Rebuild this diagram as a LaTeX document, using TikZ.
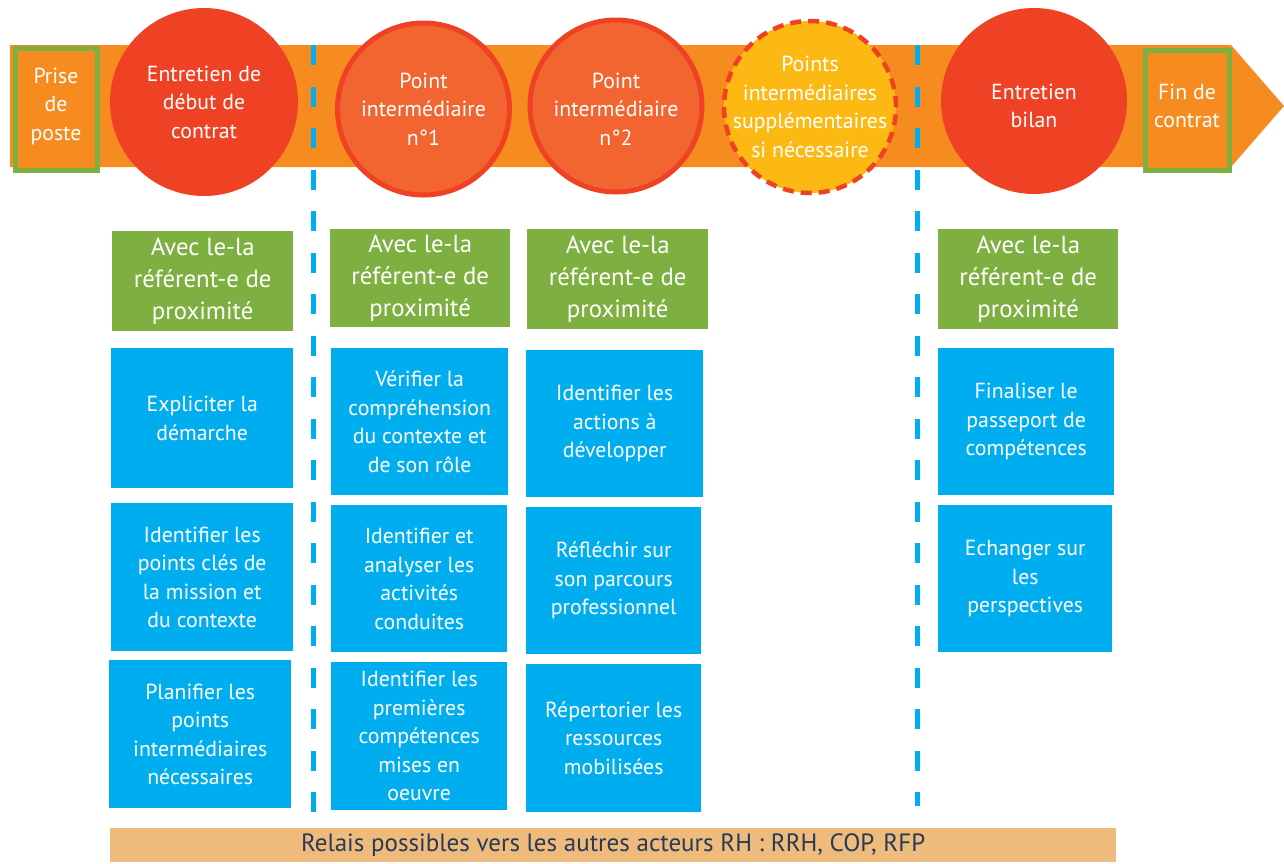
\documentclass[tikz,border=0pt]{standalone}
\usepackage{fontspec}
\setmainfont{PT Sans}
\definecolor{bandor}{HTML}{F68B1F}
\definecolor{redc}{HTML}{EF4123}
\definecolor{orc}{HTML}{F26531}
\definecolor{yelc}{HTML}{FDB913}
\definecolor{grn}{HTML}{7DB040}
\definecolor{blu}{HTML}{00AEEF}
\definecolor{barc}{HTML}{EEBB7D}
\definecolor{navy}{HTML}{283A56}
\tikzset{
  x=1pt, y=-1pt,
  wtxt/.style={text=white, align=center, font=\fontsize{21.8}{28.5}\selectfont, inner sep=0pt},
  hdr/.style={fill=grn, text=white, align=center, font=\fontsize{24.8}{32}\selectfont, inner sep=0pt, anchor=north west},
  task/.style={fill=blu, text=white, align=center, font=\fontsize{21.8}{28.5}\selectfont, inner sep=0pt, anchor=north west},
  sep/.style={draw=blu, line width=5pt, dash pattern=on 20pt off 21.5pt},
  endbox/.style={draw=grn, line width=5pt, fill=bandor, inner sep=0pt, anchor=north west},
}
\begin{document}
\begin{tikzpicture}
\useasboundingbox (0,0) rectangle (1284,863);
% band
\fill[bandor] (10,45) -- (1231,45) -- (1284,106) -- (1231,167) -- (10,167) -- cycle;
% separators
\draw[sep] (313.5,45) -- (313.5,815);
\draw[sep] (917.5,45) -- (917.5,806);
% end boxes
\node[endbox, minimum width=82pt, minimum height=122pt] (prise) at (12.5,45.5) {};
\node[wtxt] at ([yshift=3pt]prise.center) {Prise\\de\\poste};
\node[endbox, minimum width=84pt, minimum height=120pt] (fin) at (1142.5,47.5) {};
\node[wtxt] at ([yshift=4pt]fin.center) {Fin de\\contrat};
% circles
\node[circle, fill=redc, minimum size=188pt, inner sep=0pt] (c1) at (204,102) {};
\node[wtxt] at (c1) {Entretien de\\début de\\contrat};
\node[circle, fill=orc, draw=redc, line width=5pt, minimum size=172pt, inner sep=0pt] (c2) at (423.5,109) {};
\node[wtxt] at (c2) {Point\\intermédiaire\\n°1};
\node[circle, fill=orc, draw=redc, line width=5pt, minimum size=172pt, inner sep=0pt] (c3) at (616,106) {};
\node[wtxt] at ([yshift=-3pt]c3) {Point\\intermédiaire\\n°2};
\node[circle, fill=yelc, draw=redc, line width=4.5pt, dash pattern=on 11pt off 7pt, minimum size=172pt, inner sep=0pt] (c4) at (810,107) {};
\node[wtxt] at (c4) {Points\\intermédiaires\\supplémentaires\\si nécessaire};
\node[circle, fill=redc, minimum size=186pt, inner sep=0pt] (c5) at (1034,101) {};
\node[wtxt] at ([yshift=-5pt]c5) {Entretien\\bilan};
% headers
\node[hdr, minimum width=181pt, minimum height=100pt] (h1) at (112,231) {Avec le-la\\référent-e de\\proximité};
\node[hdr, minimum width=180pt, minimum height=98pt] (h2) at (330,229) {Avec le-la\\référent-e de\\proximité};
\node[hdr, minimum width=181pt, minimum height=100pt] (h3) at (527,229) {Avec le-la\\référent-e de\\proximité};
\node[hdr, minimum width=180pt, minimum height=100pt] (h5) at (938,229) {Avec le-la\\référent-e de\\proximité};
% column 1
\node[task, minimum width=182pt, minimum height=140pt] (t11) at (111,348) {Expliciter la\\démarche};
\node[task, minimum width=182pt, minimum height=148pt] (t12) at (111,503) {Identifier les\\points clés de\\la mission et\\du contexte};
\node[task, minimum width=182pt, minimum height=148pt] (t13) at (109,660) {Planifier les\\points\\intermédiaires\\nécessaires};
% column 2
\node[task, minimum width=177pt, minimum height=147pt] (t21) at (331,348) {Vérifier la\\compréhension\\du contexte et\\de son rôle};
\node[task, minimum width=176pt, minimum height=147pt] (t22) at (331,505) {Identifier et\\analyser les\\activités\\conduites};
\node[task, minimum width=176pt, minimum height=148pt] (t23) at (331,662) {Identifier les\\premières\\compétences\\mises en\\oeuvre};
% column 3
\node[task, minimum width=177pt, minimum height=147pt] (t31) at (526,350) {Identifier les\\actions à\\développer};
\node[task, minimum width=175pt, minimum height=147pt] (t32) at (526,507) {Réfléchir sur\\son parcours\\professionnel};
\node[task, minimum width=175pt, minimum height=148pt] (t33) at (526,664) {Répertorier les\\ressources\\mobilisées};
% column 5
\node[task, minimum width=176pt, minimum height=147pt] (t51) at (938,348) {Finaliser le\\passeport de\\compétences};
\node[task, minimum width=174pt, minimum height=147pt] (t52) at (938,505) {Echanger sur\\les\\perspectives};
% bottom bar
\node[fill=barc, text=navy, minimum width=1006pt, minimum height=34pt, inner sep=0pt, anchor=north west, font=\fontsize{25}{28}\selectfont] (bar) at (110,828) {Relais possibles vers les autres acteurs RH : RRH, COP, RFP};
\end{tikzpicture}
\end{document}
